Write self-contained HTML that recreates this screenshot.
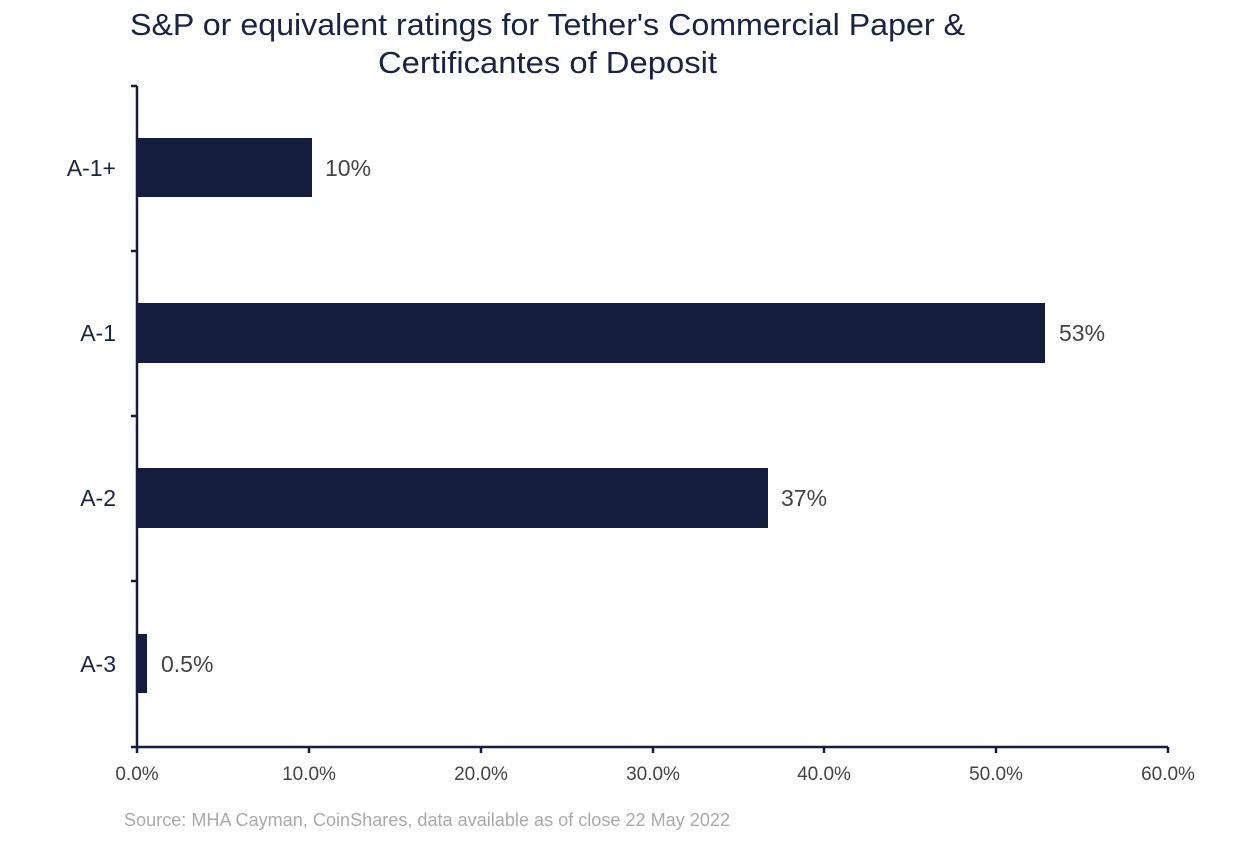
<!DOCTYPE html>
<html><head><meta charset="utf-8"><style>
body{margin:0;background:#fff;}
svg text{font-family:"Liberation Sans",sans-serif;}
</style></head><body>
<svg width="1258" height="840" viewBox="0 0 1258 840" xmlns="http://www.w3.org/2000/svg">
<rect width="1258" height="840" fill="#fff"/>
<text x="130" y="35" font-size="31" fill="#1a2340" textLength="835" lengthAdjust="spacingAndGlyphs">S&amp;P or equivalent ratings for Tether's Commercial Paper &amp;</text>
<text x="378" y="73" font-size="31" fill="#1a2340" textLength="339" lengthAdjust="spacingAndGlyphs">Certificantes of Deposit</text>
<g stroke="#141d3c" stroke-width="2.5">
<line x1="137" y1="86" x2="137" y2="747"/>
<line x1="131" y1="747" x2="1168" y2="747"/>
<line x1="131" y1="86" x2="137" y2="86"/>
<line x1="131" y1="251" x2="137" y2="251"/>
<line x1="131" y1="416" x2="137" y2="416"/>
<line x1="131" y1="581" x2="137" y2="581"/>
<line x1="137" y1="747" x2="137" y2="753"/>
<line x1="309" y1="747" x2="309" y2="753"/>
<line x1="481" y1="747" x2="481" y2="753"/>
<line x1="653" y1="747" x2="653" y2="753"/>
<line x1="824" y1="747" x2="824" y2="753"/>
<line x1="996" y1="747" x2="996" y2="753"/>
<line x1="1168" y1="747" x2="1168" y2="753"/>
</g>
<g fill="#141d3c">
<rect x="138" y="138" width="174" height="59"/>
<rect x="138" y="303" width="907" height="60"/>
<rect x="138" y="468" width="630" height="60"/>
<rect x="138" y="634" width="9" height="59"/>
</g>
<g font-size="23" fill="#1a2340" text-anchor="end">
<text x="116" y="176">A-1+</text>
<text x="116" y="341">A-1</text>
<text x="116" y="506">A-2</text>
<text x="116" y="672">A-3</text>
</g>
<g font-size="23" fill="#444">
<text x="325" y="176">10%</text>
<text x="1059" y="341">53%</text>
<text x="781" y="506">37%</text>
<text x="161" y="672">0.5%</text>
</g>
<g font-size="19" fill="#444" text-anchor="middle">
<text x="137" y="780">0.0%</text>
<text x="309" y="780">10.0%</text>
<text x="481" y="780">20.0%</text>
<text x="653" y="780">30.0%</text>
<text x="824" y="780">40.0%</text>
<text x="996" y="780">50.0%</text>
<text x="1168" y="780">60.0%</text>
</g>
<text x="124" y="826" font-size="18" fill="#aaa" textLength="606" lengthAdjust="spacingAndGlyphs">Source: MHA Cayman, CoinShares, data available as of close 22 May 2022</text>
</svg>
</body></html>
